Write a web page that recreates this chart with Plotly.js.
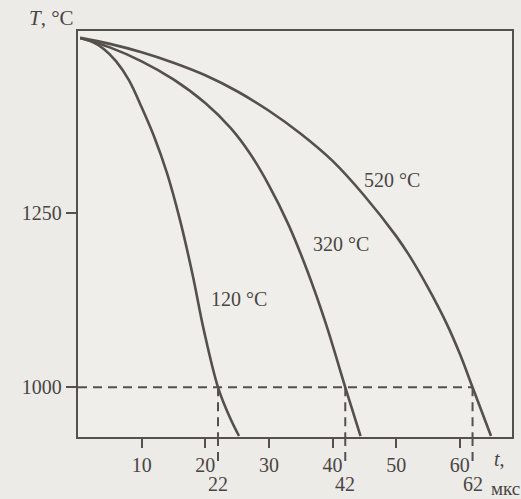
<!DOCTYPE html>
<html>
<head>
<meta charset="utf-8">
<script src="https://cdn.plot.ly/plotly-3.0.1.min.js"></script>
<style>
  html, body { margin: 0; padding: 0; background: #ecebe8; }
  #chart { width: 521px; height: 499px; }
</style>
</head>
<body>
<div id="chart"></div>
<script>
// ---- data ----
const t120 = [0.35, 2, 4, 6, 8, 10, 12, 14, 16, 18, 19.8, 22, 23.8, 25.3];
const T120 = [1501.6, 1497, 1486, 1468, 1441, 1402, 1359, 1307, 1241, 1162, 1081, 1000, 958, 930];

const t320 = [0.35, 5, 10, 15, 20, 24, 27, 30, 33, 36, 39, 42, 44.4];
const T320 = [1501.6, 1488, 1468, 1442, 1408, 1372, 1336, 1290, 1235, 1168, 1090, 1000, 930];

const t520 = [0.35, 5, 10, 15, 20, 25, 30, 35, 40, 45, 50, 52, 55, 58, 60, 62, 64.9];
const T520 = [1501.6, 1493, 1481, 1466, 1448, 1425, 1397, 1364, 1325, 1275, 1217, 1190, 1143, 1090, 1048, 1000, 930];

const curveLabels = ["120 °C", "320 °C", "520 °C"];
const xTickVals = [10, 20, 30, 40, 50, 60];
const yTickVals = [1000, 1250];
const markTimes = [22, 42, 62];   // t where each curve reaches 1000 °C
const markTemp = 1000;
const xRange = [0, 68.2];
const yRange = [928.6, 1511.5];

// ---- styling ----
const ink = "#55504c";
const txt = "#4a4542";
const font = "Liberation Serif, Times New Roman, serif";

const mk = (x, y) => ({
  x: x, y: y, type: "scatter", mode: "lines",
  line: { color: ink, width: 2.6, shape: "spline", smoothing: 1 },
  hoverinfo: "skip", showlegend: false
});
const data = [mk(t120, T120), mk(t320, T320), mk(t520, T520)];

const dash = "9px,6px";
const shapes = [{
  type: "line", xref: "x", yref: "y",
  x0: 0, x1: markTimes[markTimes.length - 1], y0: markTemp, y1: markTemp,
  line: { color: ink, width: 2, dash: dash }
}];
markTimes.forEach(t => {
  shapes.push({ type: "line", xref: "x", yref: "y", x0: t, x1: t, y0: markTemp, y1: yRange[0],
    line: { color: ink, width: 2, dash: dash } });
  shapes.push({ type: "line", xref: "x", yref: "paper", x0: t, x1: t, y0: 0, y1: -0.07,
    line: { color: ink, width: 2, dash: dash } });
});

const annotations = [
  { text: curveLabels[0], x: 25.3, y: 1127, xref: "x", yref: "y", showarrow: false, font: { family: font, size: 20, color: txt } },
  { text: curveLabels[1], x: 41.4, y: 1205, xref: "x", yref: "y", showarrow: false, font: { family: font, size: 20, color: txt } },
  { text: curveLabels[2], x: 49.3, y: 1298, xref: "x", yref: "y", showarrow: false, font: { family: font, size: 20, color: txt } },
  { text: "<i>T</i>, °C", x: 0, y: 1, xref: "paper", yref: "paper", xanchor: "right", yanchor: "middle",
    xshift: -2, yshift: 13, showarrow: false, font: { family: font, size: 21, color: txt } },
  { text: "<i>t</i>,", x: 0.955, y: -0.055, xref: "paper", yref: "paper", xanchor: "left", yanchor: "middle",
    showarrow: false, font: { family: font, size: 20, color: txt } },
  { text: "мкс", x: 0.984, y: -0.128, xref: "paper", yref: "paper", xanchor: "center", yanchor: "middle",
    showarrow: false, font: { family: font, size: 19, color: txt } }
];
markTimes.forEach(t => {
  annotations.push({ text: String(t), x: t, y: -0.115, xref: "x", yref: "paper", showarrow: false,
    xanchor: "center", yanchor: "middle", font: { family: font, size: 20, color: txt } });
});

const layout = {
  width: 521, height: 499,
  margin: { l: 78, r: 9, t: 31, b: 62 },
  paper_bgcolor: "#ecebe8", plot_bgcolor: "#efeeeb",
  font: { family: font, size: 20, color: txt },
  showlegend: false,
  xaxis: {
    range: xRange, tickvals: xTickVals, ticktext: xTickVals.map(String),
    ticks: "outside", ticklen: 9, tickwidth: 2, tickcolor: ink,
    showline: true, linecolor: ink, linewidth: 2.2, mirror: true,
    showgrid: false, zeroline: false, fixedrange: true,
    tickfont: { family: font, size: 20, color: txt }
  },
  yaxis: {
    range: yRange, tickvals: yTickVals, ticktext: yTickVals.map(String),
    ticks: "outside", ticklen: 10, tickwidth: 2, tickcolor: ink,
    showline: true, linecolor: ink, linewidth: 2.2, mirror: true,
    showgrid: false, zeroline: false, fixedrange: true,
    tickfont: { family: font, size: 20, color: txt }
  },
  shapes: shapes,
  annotations: annotations
};

Plotly.newPlot("chart", data, layout, { staticPlot: true, displayModeBar: false });
</script>
</body>
</html>
